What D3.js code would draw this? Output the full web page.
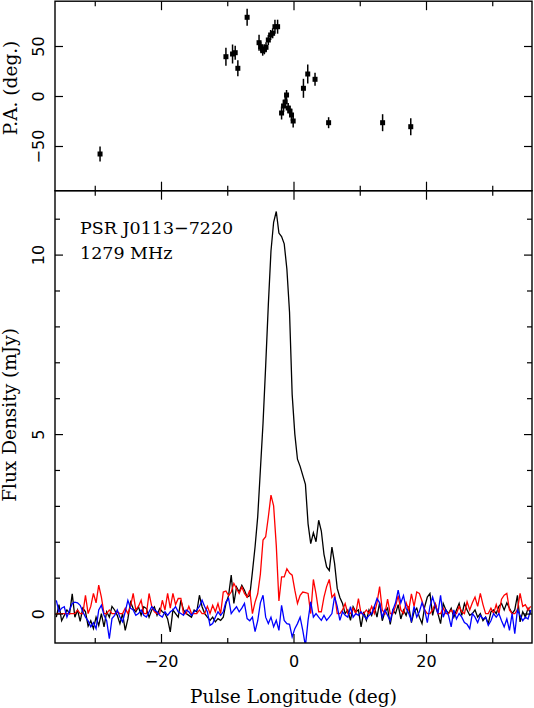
<!DOCTYPE html>
<html><head><meta charset="utf-8">
<script src="https://cdn.jsdelivr.net/npm/d3@7"></script>
<style>body{margin:0;background:#fff}svg{display:block}</style>
</head><body>
<svg id="c" width="534" height="708"></svg>
<script>
// ---- data ----
const lonStart = -35.8, lonStep = 0.4;   // profile bin grid (deg)
const stokesI = [
 -0.1,0.25,-0.2,-0.05,0.1,0.0,0.55,-0.1,0.1,-0.22,
 0.15,0.05,-0.35,-0.2,-0.42,-0.1,-0.33,0.0,-0.37,0.05,
 -0.1,0.2,0.1,-0.05,-0.28,0.0,-0.47,-0.15,0.32,0.14,
 0.05,0.19,-0.05,0.19,0.14,-0.1,0.1,0.19,-0.05,0.14,
 0.05,0.0,-0.15,-0.51,0.1,0.0,-0.1,0.37,0.1,0.0,
 -0.05,-0.1,0.1,0.05,0.51,0.19,0.0,-0.1,-0.19,-0.1,
 -0.23,-0.14,-0.19,-0.1,0.28,0.5,1.07,0.28,0.74,0.6,
 0.79,0.65,0.46,0.5,1.16,1.86,2.7,4.0,5.3,6.9,
 8.6,10.1,10.9,11.2,10.6,10.5,10.3,9.6,8.4,6.1,
 5.0,4.3,4.1,3.85,3.6,2.5,1.95,2.25,2.0,2.6,
 2.3,1.65,1.3,1.2,1.85,1.4,0.7,0.45,0.28,0.0,
 0.1,-0.19,0.19,0.05,0.1,-0.37,0.05,-0.19,0.1,-0.05,
 0.2,-0.1,0.3,-0.2,0.05,0.15,-0.3,0.1,0.0,0.25,
 -0.15,0.1,-0.05,0.2,-0.25,0.05,0.15,-0.1,-0.28,0.19,
 0.46,0.56,-0.05,0.28,0.0,-0.28,0.28,0.1,0.0,0.15,
 -0.1,0.1,0.28,-0.05,0.28,0.1,-0.05,0.0,0.1,-0.1,
 0.0,-0.2,-0.1,-0.28,0.05,0.1,0.0,0.2,0.28,0.1,
 0.3,0.15,0.0,0.1,0.51,-0.23,0.05,-0.1,0.15,0.0
];
const linearL = [
 0,0,0,0,0,0,0,0,0.1,0,
 0,0.51,0,0.2,0.56,0.3,0.79,0.46,0,0,
 0.1,0,0,0.05,0,0,0.15,0,0.2,0.56,
 0.1,0.2,0.37,0,0,0.56,0.2,0.05,0,0,
 0.37,0.1,0.56,0.15,0.56,0.25,0.42,0.42,0,0,
 0.2,0,0,0,0.1,0,0,0.2,0,0.23,
 0.05,0.28,0,0.6,0.63,0.5,0.6,0.84,0.7,0.56,
 0.74,0.56,0.46,0.65,0,0.32,0.55,1.1,2.05,2.14,
 2.69,3.3,3.0,1.9,0.35,1.02,1.02,1.25,1.13,1.07,
 0.65,0.28,0.51,0.6,0.58,0.56,0,0.95,0.55,0.05,
 0.05,0.46,0.75,0.95,0.45,0.55,0,0,0.1,0.28,
 0,0,0.15,0,0.42,0,0,0.1,0,0.2,
 0,0.3,0.75,0.1,0,0.4,0,0,0.2,0.5,
 0.1,0,0.3,0.1,0.55,0.2,0.6,0.56,0.35,0.1,
 0,0,0.1,0.28,0,0,0.15,0,0,0.1,
 0,0,0.2,0.05,0,0.33,0.1,0.3,0.46,0.2,
 0.56,0.25,0,0,0.15,0,0.25,0,0.4,0.51,
 0.56,0.1,0,0,0.1,0.56,0.2,0.25,0.1,0.2
];
const circularV = [
 0.37,0.05,0.15,0.19,-0.1,0.1,0.28,0.32,0.3,0.23,
 0.05,-0.1,-0.2,-0.37,-0.25,-0.42,0.1,0.23,-0.05,-0.2,
 -0.7,-0.14,-0.05,0.1,-0.1,-0.23,0.05,0.37,0.15,0.1,
 -0.05,0.0,0.1,-0.05,-0.1,0.05,0.19,0.1,0.05,-0.05,
 -0.1,0.05,-0.05,0.05,0.1,0.19,0.05,0.0,-0.05,0.1,
 0.05,-0.05,0.05,0.1,0.2,0.37,0.19,0.05,-0.33,-0.28,
 -0.1,0.05,-0.05,0.05,0.33,0.42,0.0,0.1,0.19,0.05,
 0.15,0.28,-0.14,-0.2,-0.1,-0.5,-0.2,0.3,0.51,-0.1,
 -0.28,-0.1,-0.37,-0.19,-0.47,0.23,-0.19,-0.28,-0.3,-0.65,
 -0.42,-0.28,-0.1,-0.47,-0.9,-0.19,0.33,-0.1,0.0,-0.1,
 -0.19,-0.05,-0.19,-0.1,0.0,0.47,0.2,-0.19,0.05,-0.05,
 -0.1,0.19,-0.1,0.0,-0.05,0.05,-0.05,-0.15,-0.05,0.0,
 0.19,0.42,0.3,-0.1,0.1,-0.05,-0.2,0.1,0.3,0.65,
 0.3,0.5,0.15,0.0,-0.2,0.2,-0.1,0.05,0.3,0.1,
 -0.25,0.2,0.46,0.2,0.0,0.51,-0.1,0.1,-0.05,-0.37,
 0.1,-0.15,0.0,-0.1,-0.25,-0.3,-0.42,0.0,-0.1,-0.25,
 -0.05,-0.15,-0.1,-0.33,-0.2,0.0,-0.1,0.0,-0.2,-0.37,
 -0.15,-0.47,0.0,-0.56,0.1,-0.05,-0.2,-0.1,-0.15,0.1
];
const paLon = [-29.2,-10.2,-9.2,-8.8,-8.4,-7.0,
  -5.2,-4.95,-4.65,-4.4,-4.15,-3.8,-3.45,-3.15,-2.8,-2.4,
  -1.8,-1.5,-1.25,-1.05,-0.8,-0.55,-0.3,-0.05,
  1.5,2.15,3.25,5.3,13.45,17.7];
const paDeg = [-58,39.3,42,43.3,27.7,78.7,
  53.3,49.3,45.3,46.7,48.7,56,61,62.7,69.3,69.3,
  -17,-10,-6,1,-12,-15,-19,-25,
  7.7,22,16.7,-26.7,-26.7,-30.7];
const paErr = [7.5,9,9.5,7,8,8.5,
  8,5,5,5,5,5,5,5,7,7,
  6.5,6,5,5,5,5,6,6.5,
  9.5,9.5,6.5,5.5,8.5,8.5];
const lonMajor = [-20,0,20], lonMinor = [-30,-10,10,30];
const fluxMajor = [0,5,10], fluxMinor = [1,2,3,4,6,7,8,9,11];
const paMajor = [-50,0,50];
const labelName = "PSR J0113\u22127220", labelFreq = "1279 MHz";

// ---- layout ----
const L = 55, R = 532, topT = 1.2, mid = 190.7, bot = 643;
const svg = d3.select("#c");
const x = d3.scaleLinear().domain([-36,36]).range([L,R]);
const yP = d3.scaleLinear().domain([-94.7,94.8]).range([mid,topT]);
const yF = d3.scaleLinear().domain([-0.82,11.78]).range([bot,mid]);
const sans = "DejaVu Sans", serif = "DejaVu Serif";

function styleAxis(g, sw){
  g.select(".domain").remove();
  g.selectAll(".tick line").attr("stroke","#000").attr("stroke-width",sw||1.2);
  g.attr("font-family",sans).attr("font-size",16);
}
function xAxes(y0, dirUp, withLabels){
  const mk = dirUp ? d3.axisBottom : d3.axisTop;
  svg.append("g").attr("transform",`translate(0,${y0})`)
    .call(mk(x).tickValues(lonMajor).tickSize(-9).tickFormat(withLabels? d3.format("d") : ""))
    .call(g=>{styleAxis(g);
      g.selectAll(".tick text").attr("y",24).attr("dy",null).attr("fill","#000");});
  svg.append("g").attr("transform",`translate(0,${y0})`)
    .call(mk(x).tickValues(lonMinor).tickSize(-5).tickFormat(""))
    .call(g=>styleAxis(g));
}
function yAxes(scale, major, minor){
  svg.append("g").attr("transform",`translate(${L},0)`)
    .call(d3.axisLeft(scale).tickValues(major).tickSize(-8).tickFormat(d3.format("d")))
    .call(g=>{styleAxis(g);
      g.selectAll(".tick text").attr("x",null).attr("dy",null).attr("fill","#000")
       .attr("text-anchor","middle").attr("transform","translate(-11,0) rotate(-90)");});
  svg.append("g").attr("transform",`translate(${R},0)`)
    .call(d3.axisRight(scale).tickValues(major).tickSize(-8).tickFormat(""))
    .call(g=>styleAxis(g));
  if(minor){
    svg.append("g").attr("transform",`translate(${L},0)`)
      .call(d3.axisLeft(scale).tickValues(minor).tickSize(-5).tickFormat("")).call(g=>styleAxis(g));
    svg.append("g").attr("transform",`translate(${R},0)`)
      .call(d3.axisRight(scale).tickValues(minor).tickSize(-5).tickFormat("")).call(g=>styleAxis(g));
  }
}

// ---- bottom panel: profiles ----
svg.append("defs").append("clipPath").attr("id","clipB")
  .append("rect").attr("x",L).attr("y",mid).attr("width",R-L).attr("height",bot-mid);
const line = d3.line().x((d,i)=>x(lonStart+i*lonStep)).y(d=>yF(d));
const gP = svg.append("g").attr("clip-path","url(#clipB)");
[[stokesI,"#000"],[linearL,"#ff0000"],[circularV,"#0000ff"]].forEach(([s,c])=>{
  gP.append("path").attr("d",line(s)).attr("fill","none").attr("stroke",c)
    .attr("stroke-width",1.3).attr("stroke-linejoin","miter");
});

// ---- top panel: PA ----
const gA = svg.append("g");
paLon.forEach((lon,i)=>{
  gA.append("line").attr("x1",x(lon)).attr("x2",x(lon))
    .attr("y1",yP(paDeg[i]-paErr[i])).attr("y2",yP(paDeg[i]+paErr[i]))
    .attr("stroke","#000").attr("stroke-width",1.5);
  gA.append("rect").attr("x",x(lon)-2.5).attr("y",yP(paDeg[i])-2.5)
    .attr("width",5).attr("height",5).attr("fill","#000");
});

// ---- frames & axes ----
svg.append("rect").attr("x",L).attr("y",topT).attr("width",R-L).attr("height",mid-topT)
  .attr("fill","none").attr("stroke","#000").attr("stroke-width",1.4);
svg.append("rect").attr("x",L).attr("y",mid).attr("width",R-L).attr("height",bot-mid)
  .attr("fill","none").attr("stroke","#000").attr("stroke-width",1.4);
xAxes(bot, true, true);
xAxes(mid, false, false);
xAxes(mid, true, false);
xAxes(topT, false, false);
yAxes(yF, fluxMajor, fluxMinor);
yAxes(yP, paMajor, null);

// ---- labels ----
svg.append("text").attr("x",(L+R)/2).attr("y",703).attr("text-anchor","middle")
  .attr("font-family",serif).attr("font-size",18.5).text("Pulse Longitude (deg)");
svg.append("text").attr("transform","translate(16,415) rotate(-90)").attr("text-anchor","middle")
  .attr("font-family",serif).attr("font-size",18.5).text("Flux Density (mJy)");
svg.append("text").attr("transform","translate(16.5,88) rotate(-90)").attr("text-anchor","middle")
  .attr("font-family",serif).attr("font-size",18.5).text("P.A. (deg.)");
svg.append("text").attr("x",80).attr("y",233.5).attr("font-family",serif).attr("font-size",17.5).text(labelName);
svg.append("text").attr("x",80).attr("y",258.5).attr("font-family",serif).attr("font-size",17.5).text(labelFreq);
</script>
</body></html>
